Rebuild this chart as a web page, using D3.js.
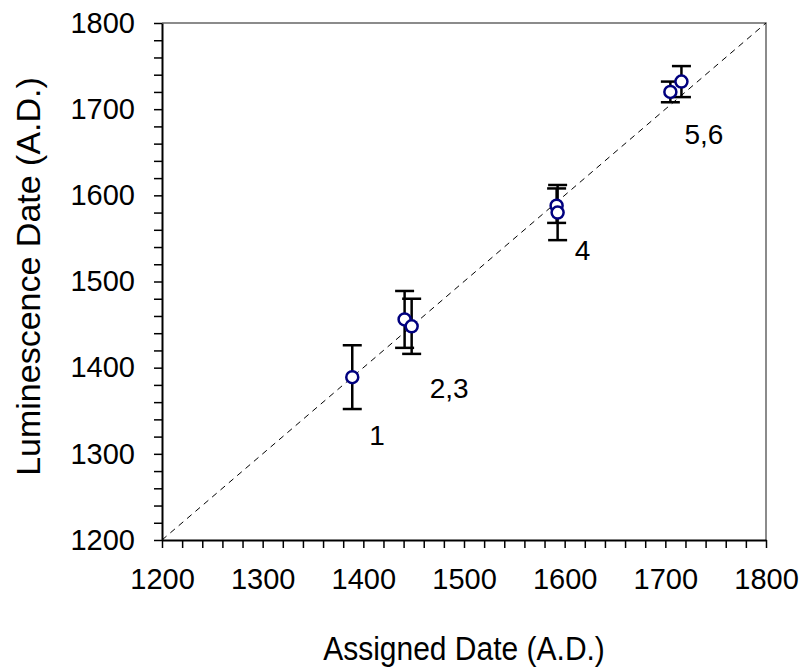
<!DOCTYPE html>
<html>
<head>
<meta charset="utf-8">
<script src="https://cdn.jsdelivr.net/npm/d3@7"></script>
<style>
  body { margin: 0; background: #fff; }
  text { font-family: Arial, "Liberation Sans", sans-serif; fill: #000; }
</style>
</head>
<body>
<div id="container"></div>
<script>
/* DATA */
const assignedDate = [1389, 1441, 1448, 1592, 1593, 1705, 1716];
const lumDate      = [1389, 1456, 1448, 1588, 1580, 1720, 1732];
const lumError     = [37, 33, 32, 20, 32, 12, 18];

const labelText = ["1", "2,3", "4", "5,6"];
const labelX    = [1406, 1466, 1610, 1719];
const labelY    = [1310, 1365, 1525, 1660];

const xTicks = [1200, 1300, 1400, 1500, 1600, 1700, 1800];
const yTicks = [1200, 1300, 1400, 1500, 1600, 1700, 1800];

/* CONSTANTS */
const width = 804, height = 667;
const margin = {left: 162, right: 38, top: 23, bottom: 127};

const data = assignedDate.map((d, i) => ({x: d, y: lumDate[i], e: lumError[i]}));

/* SCALES */
const xScale = d3.scaleLinear()
  .domain([1200, 1800])
  .range([margin.left, width - margin.right]);

const yScale = d3.scaleLinear()
  .domain([1200, 1800])
  .range([height - margin.bottom, margin.top]);

const svg = d3.select("#container")
  .append("svg")
  .attr("width", width)
  .attr("height", height);

// frame (top + right)
svg.append("path")
  .attr("d", `M${xScale(1200)},${yScale(1800)}H${xScale(1800)}V${yScale(1200)}`)
  .attr("fill", "none")
  .attr("stroke", "#666")
  .attr("stroke-width", 1.5);

/* AXES */
const minor = d3.range(1200, 1801, 20);

const xAxis = d3.axisBottom(xScale)
  .tickValues(minor)
  .tickFormat(d => xTicks.includes(d) ? d : "")
  .tickSize(8)
  .tickSizeOuter(0)
  .tickPadding(20);

const yAxis = d3.axisLeft(yScale)
  .tickValues(minor)
  .tickFormat(d => yTicks.includes(d) ? d : "")
  .tickSize(8)
  .tickSizeOuter(0)
  .tickPadding(19);

const gx = svg.append("g")
  .attr("transform", `translate(0,${yScale(1200)})`)
  .call(xAxis);

const gy = svg.append("g")
  .attr("transform", `translate(${xScale(1200)},0)`)
  .call(yAxis);

[gx, gy].forEach(g => {
  g.select(".domain").attr("stroke", "#000").attr("stroke-width", 2);
  g.selectAll(".tick line").attr("stroke", "#000").attr("stroke-width", 1.5);
  g.selectAll(".tick text")
    .style("font-family", "Arial, 'Liberation Sans', sans-serif")
    .style("font-size", "29px");
});

// axis titles
svg.append("text")
  .attr("transform", `translate(${(xScale(1200) + xScale(1800)) / 2},660) scale(1,1.12)`)
  .attr("text-anchor", "middle")
  .style("font-size", "30px")
  .text("Assigned Date (A.D.)");

svg.append("text")
  .attr("transform", `translate(40,${(yScale(1200) + yScale(1800)) / 2 - 5}) rotate(-90)`)
  .attr("text-anchor", "middle")
  .style("font-size", "34px")
  .text("Luminescence Date (A.D.)");

/* 1:1 LINE */
svg.append("line")
  .attr("x1", xScale(1200)).attr("y1", yScale(1200))
  .attr("x2", xScale(1800)).attr("y2", yScale(1800))
  .attr("stroke", "#000")
  .attr("stroke-width", 1)
  .attr("stroke-dasharray", "6,5");

/* ERROR BARS */
const cap = 9.5;
const bars = svg.append("g").attr("stroke", "#000").attr("stroke-width", 2.5);

bars.selectAll("line.v")
  .data(data)
  .join("line")
  .attr("class", "v")
  .attr("x1", d => xScale(d.x)).attr("x2", d => xScale(d.x))
  .attr("y1", d => yScale(d.y - d.e)).attr("y2", d => yScale(d.y + d.e));

bars.selectAll("line.top")
  .data(data)
  .join("line")
  .attr("class", "top")
  .attr("x1", d => xScale(d.x) - cap).attr("x2", d => xScale(d.x) + cap)
  .attr("y1", d => yScale(d.y + d.e)).attr("y2", d => yScale(d.y + d.e));

bars.selectAll("line.bot")
  .data(data)
  .join("line")
  .attr("class", "bot")
  .attr("x1", d => xScale(d.x) - cap).attr("x2", d => xScale(d.x) + cap)
  .attr("y1", d => yScale(d.y - d.e)).attr("y2", d => yScale(d.y - d.e));

/* POINTS */
svg.selectAll("circle")
  .data(data)
  .join("circle")
  .attr("cx", d => xScale(d.x))
  .attr("cy", d => yScale(d.y))
  .attr("r", 6)
  .attr("fill", "#fff")
  .attr("stroke", "#00007f")
  .attr("stroke-width", 2.5);

/* LABELS */
svg.selectAll("text.lab")
  .data(labelText)
  .join("text")
  .attr("class", "lab")
  .attr("x", (d, i) => xScale(labelX[i]))
  .attr("y", (d, i) => yScale(labelY[i]))
  .style("font-size", "28px")
  .text(d => d);
</script>
</body>
</html>
